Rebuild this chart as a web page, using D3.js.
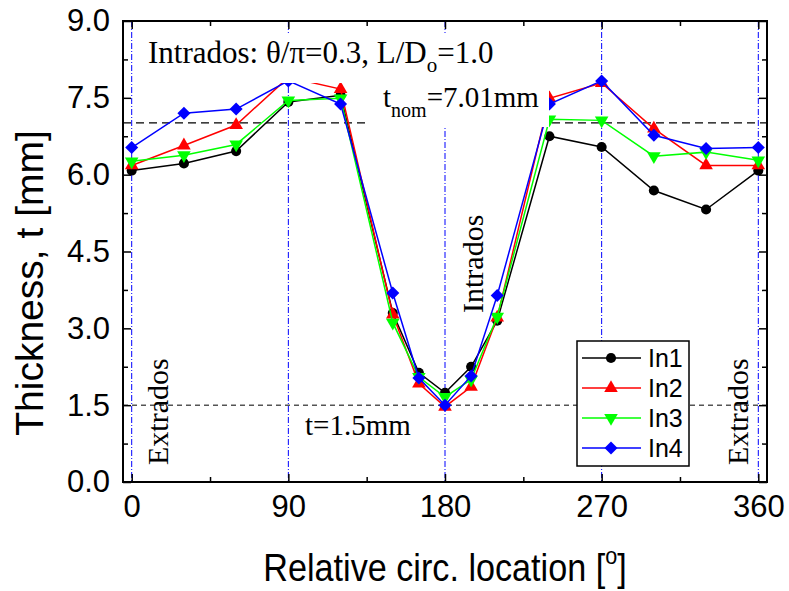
<!DOCTYPE html>
<html lang="en">
<head>
    <meta charset="UTF-8">
    <title>Thickness vs circumferential location</title>
    <style>
        body {
            margin: 0;
            padding: 0;
            background: #fff;
        }
        .tick text {
            font-family: 'Liberation Sans', Arial, sans-serif;
            font-size: 31px;
            fill: #000;
        }
        .axis path {
            display: none;
        }
        .axis line {
            stroke: #000;
            stroke-width: 1.5px;
        }
        .serif {
            font-family: 'Liberation Serif', 'Times New Roman', serif;
            fill: #000;
        }
        .sans {
            font-family: 'Liberation Sans', Arial, sans-serif;
            fill: #000;
        }
    </style>
</head>
<body>
    <script src="https://d3js.org/d3.v7.min.js"></script>
    <script>
        const width = 789;
        const height = 591;

        // data
        const angles = [0, 30, 60, 90, 120, 150, 165, 180, 195, 210, 240, 270, 300, 330, 360];
        const in1 = [6.08, 6.22, 6.46, 7.42, 7.55, 3.3, 2.13, 1.74, 2.25, 3.15, 6.75, 6.54, 5.69, 5.32, 6.08];
        const in2 = [6.18, 6.57, 6.97, 7.9, 7.67, 3.27, 1.92, 1.47, 1.86, 3.21, 7.49, 7.79, 6.9, 6.18, 6.18];
        const in3 = [6.26, 6.38, 6.59, 7.45, 7.49, 3.11, 2.05, 1.66, 2.0, 3.23, 7.08, 7.06, 6.36, 6.44, 6.28];
        const in4 = [6.53, 7.2, 7.28, 7.83, 7.38, 3.69, 2.03, 1.5, 2.07, 3.64, 7.38, 7.83, 6.77, 6.51, 6.53];
        const seriesNames = ['In1', 'In2', 'In3', 'In4'];
        const xTicks = [0, 90, 180, 270, 360];
        const xMinor = [45, 135, 225, 315];
        const yTicks = [0, 1.5, 3, 4.5, 6, 7.5, 9];
        const yMinor = [0.75, 2.25, 3.75, 5.25, 6.75, 8.25];
        const refAngles = [0, 90, 180, 270, 360];
        const tNom = 7.01;
        const tMin = 1.5;

        const series = [
            { name: seriesNames[0], values: in1, color: '#000000', shape: 'circle' },
            { name: seriesNames[1], values: in2, color: '#ff0000', shape: 'up' },
            { name: seriesNames[2], values: in3, color: '#00ff00', shape: 'down' },
            { name: seriesNames[3], values: in4, color: '#0000ff', shape: 'diamond' }
        ];

        const pLeft = 123, pRight = 767, pTop = 21, pBottom = 482;

        const x = d3.scaleLinear().domain([-5, 365]).range([pLeft, pRight]);
        const y = d3.scaleLinear().domain([0, 9]).range([pBottom, pTop]);

        const svg = d3.select('body').append('svg')
            .attr('width', width)
            .attr('height', height);

        // reference lines (dash-dot verticals)
        svg.append('g')
            .selectAll('line')
            .data(refAngles)
            .enter().append('line')
            .attr('x1', d => x(d)).attr('x2', d => x(d))
            .attr('y1', pTop).attr('y2', pBottom)
            .attr('stroke', '#0000ff')
            .attr('stroke-width', 1)
            .attr('stroke-dasharray', '6,2,1,2');

        // t = 1.5 mm line
        svg.append('line')
            .attr('x1', pLeft).attr('x2', pRight)
            .attr('y1', y(tMin)).attr('y2', y(tMin))
            .attr('stroke', '#555')
            .attr('stroke-width', 1.5)
            .attr('stroke-dasharray', '5,4');

        // nominal thickness line
        svg.append('line')
            .attr('x1', pLeft).attr('x2', pRight)
            .attr('y1', y(tNom)).attr('y2', y(tNom))
            .attr('stroke', '#000')
            .attr('stroke-width', 1.3)
            .attr('stroke-dasharray', '8,5');

        function symbolPath(shape) {
            if (shape === 'circle') return d3.symbol(d3.symbolCircle, 80)();
            if (shape === 'diamond') return d3.symbol(d3.symbolSquare, 85)();
            return d3.symbol(d3.symbolTriangle, 80)();
        }
        function symbolRotate(shape) {
            if (shape === 'down') return 180;
            if (shape === 'diamond') return 45;
            return 0;
        }

        const line = d3.line()
            .x((d, i) => x(angles[i]))
            .y(d => y(d));

        const plot = svg.append('g');
        series.forEach(s => {
            plot.append('path')
                .datum(s.values)
                .attr('fill', 'none')
                .attr('stroke', s.color)
                .attr('stroke-width', 1.5)
                .attr('d', line);
            plot.append('g')
                .selectAll('path')
                .data(s.values)
                .enter().append('path')
                .attr('d', symbolPath(s.shape))
                .attr('fill', s.color)
                .attr('transform', (d, i) => `translate(${x(angles[i])},${y(d)}) rotate(${symbolRotate(s.shape)})`);
        });

        // white boxes behind annotation texts
        svg.append('rect')
            .attr('x', 138).attr('y', 33).attr('width', 362).attr('height', 50)
            .attr('fill', '#fff');
        svg.append('rect')
            .attr('x', 369).attr('y', 83).attr('width', 180).attr('height', 44)
            .attr('fill', '#fff');

        // axes
        svg.append('g')
            .attr('class', 'axis')
            .attr('transform', `translate(0,${pBottom})`)
            .call(d3.axisBottom(x).tickValues(xTicks).tickSize(-8).tickPadding(13).tickFormat(d3.format('d')));
        svg.append('g')
            .attr('class', 'axis')
            .attr('transform', `translate(0,${pBottom})`)
            .call(d3.axisBottom(x).tickValues(xMinor).tickSize(-5).tickFormat(''));
        svg.append('g')
            .attr('class', 'axis')
            .attr('transform', `translate(0,${pTop})`)
            .call(d3.axisTop(x).tickValues(xTicks).tickSize(-8).tickFormat(''));
        svg.append('g')
            .attr('class', 'axis')
            .attr('transform', `translate(0,${pTop})`)
            .call(d3.axisTop(x).tickValues(xMinor).tickSize(-5).tickFormat(''));

        svg.append('g')
            .attr('class', 'axis')
            .attr('transform', `translate(${pLeft},0)`)
            .call(d3.axisLeft(y).tickValues(yTicks).tickSize(-8).tickPadding(13).tickFormat(d3.format('.1f')));
        svg.append('g')
            .attr('class', 'axis')
            .attr('transform', `translate(${pLeft},0)`)
            .call(d3.axisLeft(y).tickValues(yMinor).tickSize(-5).tickFormat(''));
        svg.append('g')
            .attr('class', 'axis')
            .attr('transform', `translate(${pRight},0)`)
            .call(d3.axisRight(y).tickValues(yTicks).tickSize(-8).tickFormat(''));
        svg.append('g')
            .attr('class', 'axis')
            .attr('transform', `translate(${pRight},0)`)
            .call(d3.axisRight(y).tickValues(yMinor).tickSize(-5).tickFormat(''));

        // frame
        svg.append('rect')
            .attr('x', pLeft).attr('y', pTop)
            .attr('width', pRight - pLeft).attr('height', pBottom - pTop)
            .attr('fill', 'none')
            .attr('stroke', '#000')
            .attr('stroke-width', 2);

        // axis titles (glyphs in the source are a bit narrow)
        const xt = svg.append('text')
            .attr('class', 'sans')
            .attr('transform', `translate(${(pLeft + pRight) / 2},581) scale(0.9,1)`)
            .attr('text-anchor', 'middle')
            .style('font-size', '38px');
        xt.append('tspan').text('Relative circ. location [');
        xt.append('tspan').text('o').style('font-size', '24px').attr('dy', -17);
        xt.append('tspan').text(']').attr('dy', 17);

        svg.append('text')
            .attr('class', 'sans')
            .attr('transform', 'translate(43,283) rotate(-90)')
            .attr('text-anchor', 'middle')
            .style('font-size', '39px')
            .text('Thickness, t [mm]');

        // annotations
        const t1 = svg.append('text')
            .attr('class', 'serif')
            .attr('x', 148).attr('y', 63)
            .style('font-size', '31px');
        t1.append('tspan').text('Intrados: \u03b8/\u03c0=0.3, L/D');
        t1.append('tspan').text('o').style('font-size', '21px').attr('dy', 9);
        t1.append('tspan').text('=1.0').attr('dy', -9);

        const t2 = svg.append('text')
            .attr('class', 'serif')
            .attr('x', 383).attr('y', 107)
            .style('font-size', '29px');
        t2.append('tspan').text('t');
        t2.append('tspan').text('nom').style('font-size', '20px').attr('dy', 10);
        t2.append('tspan').text('=7.01mm').attr('dy', -10);

        svg.append('text')
            .attr('class', 'serif')
            .attr('x', 305).attr('y', 435)
            .style('font-size', '29px')
            .text('t=1.5mm');

        const vLabels = [
            { text: 'Extrados', x: 168, y: 465 },
            { text: 'Intrados', x: 483, y: 313 },
            { text: 'Extrados', x: 748, y: 465 }
        ];
        svg.append('g')
            .selectAll('text')
            .data(vLabels)
            .enter().append('text')
            .attr('class', 'serif')
            .attr('transform', d => `translate(${d.x},${d.y}) rotate(-90)`)
            .style('font-size', '30px')
            .text(d => d.text);

        // legend
        const legend = svg.append('g').attr('transform', 'translate(577,341)');
        legend.append('rect')
            .attr('width', 112).attr('height', 125)
            .attr('fill', '#fff')
            .attr('stroke', '#000')
            .attr('stroke-width', 1.5);
        const item = legend.selectAll('.item')
            .data(series)
            .enter().append('g')
            .attr('class', 'item')
            .attr('transform', (d, i) => `translate(0,${17 + i * 30})`);
        item.append('line')
            .attr('x1', 5).attr('x2', 64)
            .attr('stroke', d => d.color)
            .attr('stroke-width', 1.5);
        item.append('path')
            .attr('d', d => symbolPath(d.shape))
            .attr('fill', d => d.color)
            .attr('transform', d => `translate(34,0) rotate(${symbolRotate(d.shape)})`);
        item.append('text')
            .attr('class', 'sans')
            .attr('x', 71).attr('y', 9)
            .style('font-size', '25px')
            .text(d => d.name);
    </script>
</body>
</html>
